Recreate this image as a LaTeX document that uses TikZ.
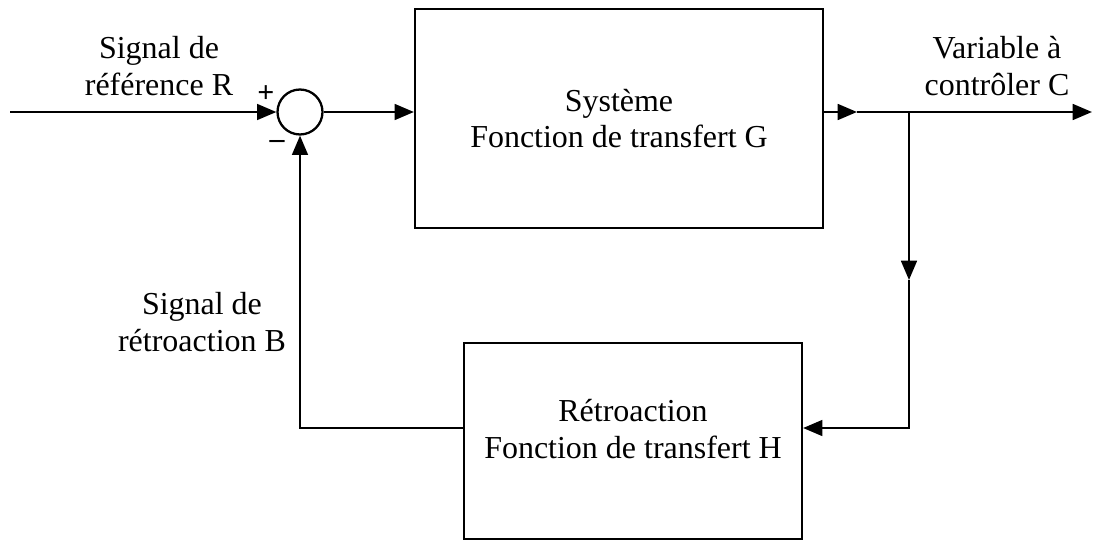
\documentclass[tikz,border=0pt]{standalone}
\usepackage{fontspec}
\setmainfont{Liberation Serif}
\usetikzlibrary{arrows.meta}

\begin{document}
\begin{tikzpicture}[
    x=0.02cm, y=-0.02cm,
    line width=1.3pt,
    >={Triangle[length=11pt, width=9pt]},
    blk/.style={draw, inner sep=0pt},
    somme/.style={draw, circle, minimum size=0.9cm, inner sep=0pt},
    lbl/.style={font=\fontsize{18.2}{21}\selectfont, align=center},
    sgn/.style={font=\fontsize{17}{17}\selectfont\bfseries, inner sep=0pt}]

  \useasboundingbox (0,0) rectangle (1095,541);

  % blocs
  \node[somme] (sum) at (300,112) {};
  \node[blk, minimum width=8.16cm, minimum height=4.38cm, lbl] (sys) at (619,118.5)
    {Système\\Fonction de transfert G};
  \node[blk, minimum width=6.76cm, minimum height=3.92cm] (ret) at (633,441) {};
  \node[lbl] (rettxt) at (633,429) {Rétroaction\\Fonction de transfert H};

  % points de passage
  \coordinate (in)  at (10,112);
  \coordinate (mid) at (857,112);
  \coordinate (br)  at (909,112);
  \coordinate (out) at (1092,112);
  \coordinate (dn)  at (909,280);
  \coordinate (fbk) at (909,428);

  % liaisons
  \draw[->] (in) -- (sum.west);
  \draw[->] (sum.east) -- (sum -| sys.west);
  \draw[->] (sys.east |- sum) -- (mid);
  \draw[->] (mid) -- (out);
  \draw[->] (br) -- (dn);
  \draw[->] (dn) -- (fbk) -- (fbk -| ret.east);
  \draw[->] (fbk -| ret.west) -| (sum.south);

  % textes
  \node[lbl] (ref) at (159,66) {Signal de\\référence R};
  \node[lbl] (var) at (997,66) {Variable à\\contrôler C};
  \node[lbl] (retr) at (202,322) {Signal de\\rétroaction B};
  \node[sgn] (plus) at (266,94) {+};
  \node[sgn] (moins) at (277,144) {--};
\end{tikzpicture}
\end{document}
